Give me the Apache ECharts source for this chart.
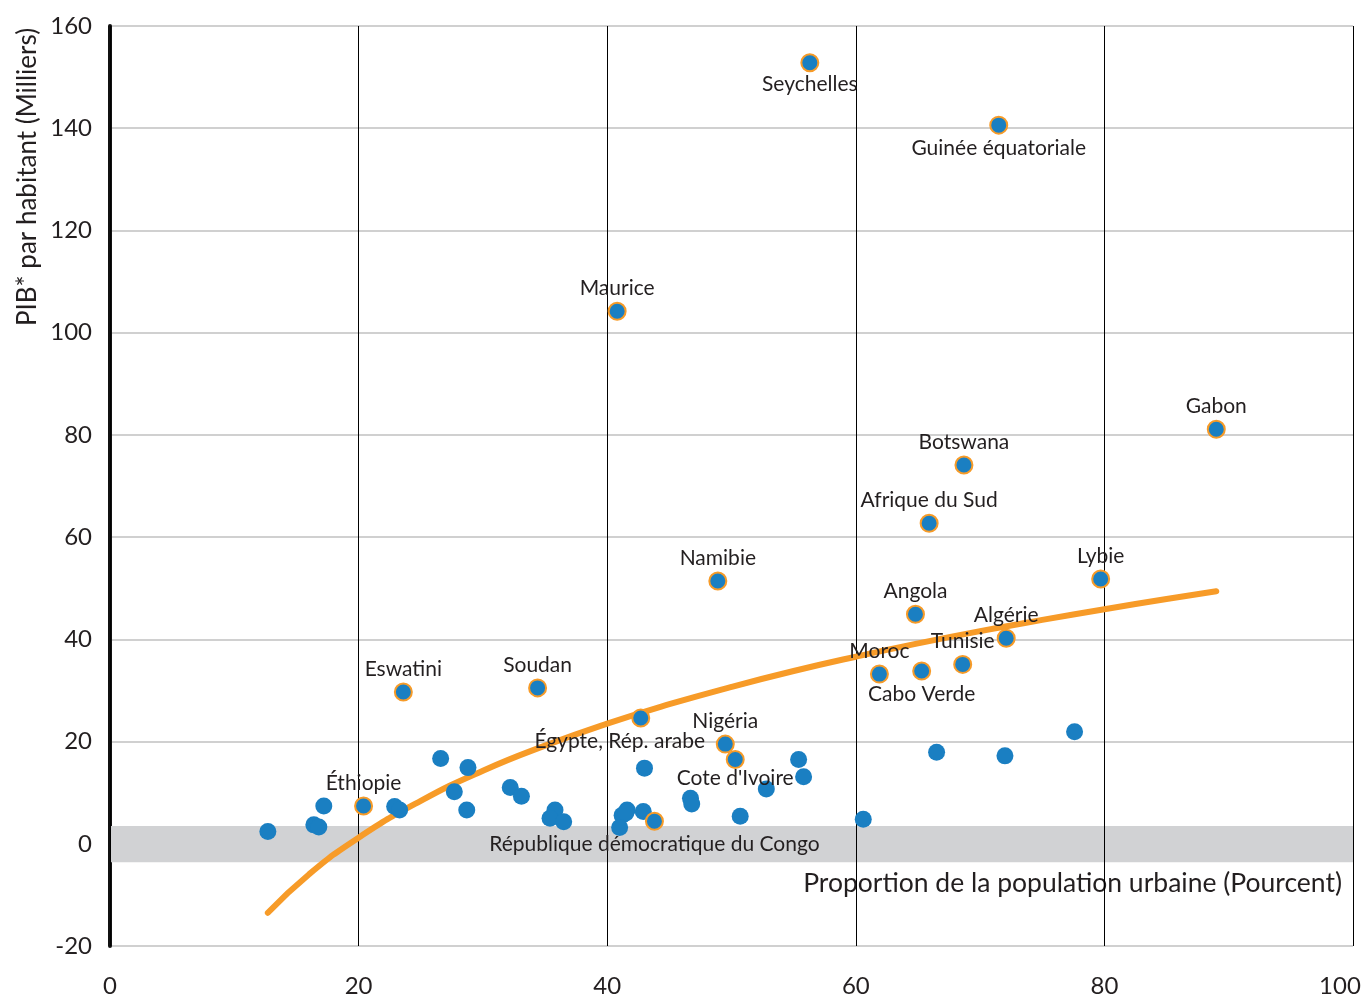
<!DOCTYPE html>
<html><head><meta charset="utf-8">
<script src="https://cdn.jsdelivr.net/npm/echarts@6/dist/echarts.min.js"></script>
<style>html,body{margin:0;padding:0;background:#fff}#c{width:1365px;height:998px}</style>
</head><body><div id="c"></div>
<script>
// Labelled countries
const labeledNames = ['Seychelles','Guinée équatoriale','Maurice','Gabon','Botswana','Afrique du Sud','Namibie','Lybie','Angola','Algérie','Tunisie','Cabo Verde','Moroc','Eswatini','Soudan','Égypte, Rép. arabe','Nigéria',"Cote d'Ivoire",'Éthiopie','République démocratique du Congo'];
const labeledX = [56.3, 71.5, 40.8, 89.0, 68.7, 65.9, 48.9, 79.7, 64.8, 72.1, 68.6, 65.3, 61.9, 23.6, 34.4, 42.7, 49.5, 50.3, 20.4, 43.8];
const labeledY = [152.8, 140.6, 104.2, 81.1, 74.1, 62.7, 51.4, 51.8, 44.9, 40.2, 35.1, 33.8, 33.2, 29.7, 30.5, 24.6, 19.5, 16.5, 7.4, 4.4];
// Other countries
const otherX = [12.7, 16.4, 16.8, 17.2, 22.9, 23.3, 26.6, 28.8, 27.7, 28.7, 32.2, 33.1, 35.8, 35.4, 36.5, 41.6, 41.2, 41.5, 41.0, 43.0, 42.9, 46.7, 46.8, 50.7, 52.8, 55.4, 55.8, 60.6, 66.5, 72.0, 77.6];
const otherY = [2.4, 3.7, 3.3, 7.4, 7.3, 6.6, 16.7, 14.9, 10.2, 6.6, 11.0, 9.3, 6.6, 5.0, 4.3, 6.6, 5.6, 6.0, 3.2, 14.8, 6.3, 8.9, 7.8, 5.4, 10.7, 16.5, 13.1, 4.8, 17.9, 17.2, 21.9];
// Trend curve
const trendX = [12.7, 16, 20, 25, 30, 35, 40, 45, 50, 55, 60, 65, 70, 75, 80, 85, 89];
const trendY = [-13.5, -6.0, 1.2, 8.4, 14.3, 19.2, 23.5, 27.3, 30.7, 33.8, 36.6, 39.2, 41.6, 43.8, 45.9, 47.9, 49.4];
// Grey band
const bandRange = [-3.6, 3.5];
const yAxisTitle = 'PIB* par habitant (Milliers)';
const xAxisTitle = 'Proportion de la population urbaine (Pourcent)';

const FONT = 'Lato';
const TXT = '#231f20';
const BLUE = '#1a7fc2';
const ORANGE = '#f79b28';

const belowSet = new Set(['Seychelles','Guinée équatoriale','Cabo Verde','Égypte, Rép. arabe',"Cote d'Ivoire",'République démocratique du Congo']);
const labelPadding = {'Égypte, Rép. arabe': [0, 42, 0, 0]};
const labelDistance = {'Seychelles': 1, "Cote d'Ivoire": -1};

const labeledData = labeledNames.map((n, i) => ({
  name: n,
  value: [labeledX[i], labeledY[i]],
  label: {
    show: true,
    formatter: n,
    position: belowSet.has(n) ? 'bottom' : 'top',
    distance: (n in labelDistance) ? labelDistance[n] : 3,
    padding: labelPadding[n] || 0,
    fontFamily: FONT, fontSize: 21, color: TXT
  }
}));
const otherData = otherX.map((x, i) => [x, otherY[i]]);
const trendData = trendX.map((x, i) => [x, trendY[i]]);

const chart = echarts.init(document.getElementById('c'), null, {renderer: 'canvas'});
chart.setOption({
  animation: false,
  backgroundColor: '#fff',
  grid: {left: 110, right: 12, top: 26, bottom: 52, containLabel: false, outerBoundsMode: 'none'},
  xAxis: {
    type: 'value', min: 0, max: 100, interval: 20, z: 1.5,
    axisLine: {show: false}, axisTick: {show: false},
    axisLabel: {fontFamily: FONT, fontSize: 24, color: TXT, margin: 28,
      formatter: v => v === 100 ? '{e|' + v + '}' : String(v),
      rich: {e: {fontFamily: FONT, fontSize: 24, color: TXT, padding: [0, 26, 0, 0]}}},
    splitLine: {show: true, lineStyle: {color: '#000', width: 1}}
  },
  yAxis: {
    type: 'value', min: -20, max: 160, interval: 20, z: 0,
    axisLine: {show: true, onZero: false, lineStyle: {color: '#111', width: 4}},
    axisTick: {show: false},
    axisLabel: {fontFamily: FONT, fontSize: 24, color: TXT, margin: 18},
    splitLine: {show: true, lineStyle: {color: '#d0d0d0', width: 2}}
  },
  graphic: [
    {type: 'text', x: 28, y: 177, rotation: Math.PI / 2,
     style: {text: yAxisTitle, fontFamily: FONT, fontSize: 26, fill: TXT, textAlign: 'center', textVerticalAlign: 'middle'}},
    {type: 'text', right: 23, top: 870,
     style: {text: xAxisTitle, fontFamily: FONT, fontSize: 26.5, fill: TXT}}
  ],
  series: [
    {
      type: 'line', z: 1, data: [], silent: true,
      markArea: {silent: true, itemStyle: {color: '#d1d2d4'},
        data: [[{xAxis: 0, yAxis: bandRange[0]}, {xAxis: 100, yAxis: bandRange[1]}]]}
    },
    {
      type: 'line', z: 3, data: trendData, smooth: true, showSymbol: false,
      lineStyle: {color: ORANGE, width: 6, cap: 'round'}
    },
    {
      type: 'scatter', z: 4, data: otherData, symbolSize: 17,
      itemStyle: {color: BLUE, opacity: 1}
    },
    {
      type: 'scatter', z: 5, data: labeledData, symbolSize: 17,
      itemStyle: {color: BLUE, borderColor: ORANGE, borderWidth: 2, opacity: 1},
      labelLayout: {hideOverlap: false}
    }
  ]
});
</script></body></html>
